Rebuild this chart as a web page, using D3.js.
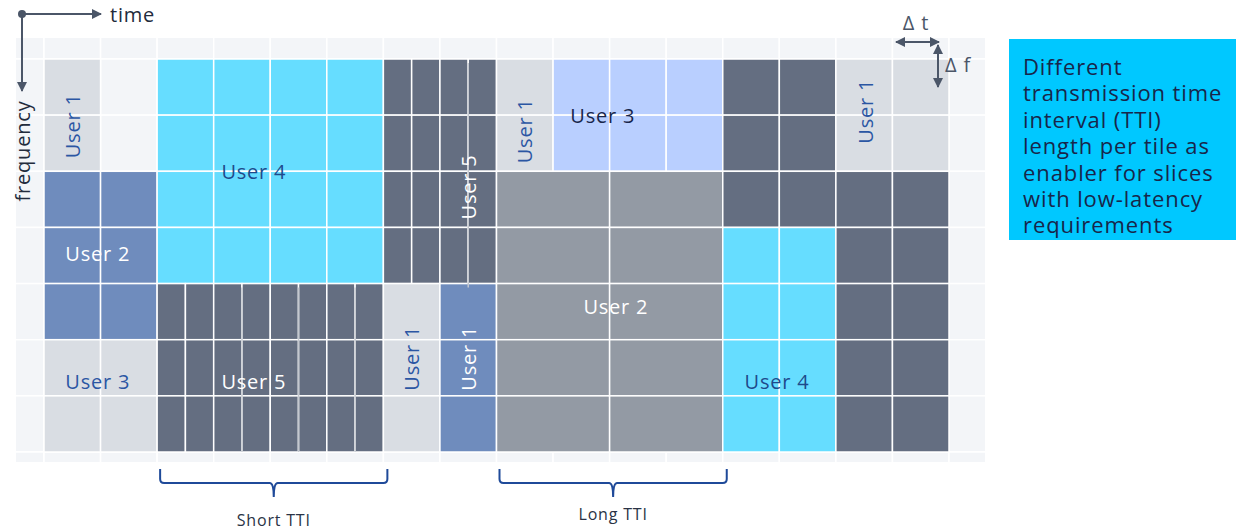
<!DOCTYPE html>
<html>
<head>
<meta charset="utf-8">
<script src="https://cdn.jsdelivr.net/npm/d3@7"></script>
<style>
  body { margin: 0; background: #fff; }
  text { font-family: "Open Sans", "Noto Sans", sans-serif; font-weight: 400; letter-spacing: 0.8px; }
</style>
</head>
<body>
<svg id="chart" width="1238" height="531"></svg>
<script>
// Resource grid: 16 time slots x 7 frequency slots
const N_SLOTS = 16;
const N_BANDS = 7;

// One entry per tile (slot/band in grid units)
const tileUsers = ['User 1', 'User 2', 'User 3', 'User 4', 'User 5', 'User 5', 'User 1', 'User 1',
  'User 1', 'User 3', 'User 2', '', 'User 4', 'User 1', ''];
const tileSlot = [0, 0, 0, 2, 2, 6, 6, 7, 8, 9, 8, 12, 12, 14, 14];
const tileBand = [0, 2, 5, 0, 4, 0, 4, 4, 0, 0, 2, 0, 3, 0, 2];
const tileSlots = [1, 2, 2, 4, 4, 2, 1, 1, 1, 3, 4, 2, 2, 2, 2];
const tileBands = [2, 3, 2, 4, 3, 4, 3, 3, 2, 2, 5, 3, 4, 2, 5];
const tileKind = ['light', 'blue', 'light', 'cyan', 'dark', 'dark', 'light', 'blue',
  'light', 'pale', 'grey', 'dark', 'cyan', 'light', 'dark'];
const tileTti = [1, 1, 1, 1, 0.5, 0.5, 1, 1, 1, 1, 2, 1, 1, 1, 1];
// label anchor (grid units) and orientation
const labelSlot = [0.5, 0.95, 0.95, 3.71, 3.71, 7.5, 6.5, 7.5, 8.5, 9.88, 10.11, 0, 12.96, 14.53, 0];
const labelBand = [1.19, 3.46, 5.74, 2.0, 5.74, 2.28, 5.33, 5.33, 1.28, 1.0, 4.4, 0, 5.74, 0.93, 0];
const labelVertical = [true, false, false, false, false, true, true, true, true, false, false, false, false, true, false];

// faint half-slot lines over the short-TTI tiles
const faintSlot = [3.5, 4.5, 5.5, 7.5];
const faintFrom = [4.07, 4.07, 4.07, 0.07];
const faintTo = [7.0, 7.0, 7.0, 4.07];

// braces under the grid
const braceNames = ['Short TTI', 'Long TTI'];
const braceFrom = [2, 8];
const braceTo = [6, 12];
const braceLabelY = [520, 514];

const noteLines = ['Different', 'transmission time', 'interval (TTI)', 'length per tile as',
  'enabler for slices', 'with low-latency', 'requirements'];

const FILL = { light: '#d9dde3', blue: '#6f8cbd', cyan: '#66ddff', dark: '#646e81', pale: '#b9cfff', grey: '#939aa4' };
const INK = { light: '#2b56a3', blue: '#ffffff', cyan: '#1e4a8c', dark: '#ffffff', pale: '#18264a', grey: '#ffffff' };
const AXIS_INK = '#4b5668';

const svg = d3.select('#chart');
const x = d3.scaleLinear().domain([0, N_SLOTS]).range([44, 949]);
const y = d3.scaleLinear().domain([0, N_BANDS]).range([59, 452]);

// background grid
svg.append('clipPath').attr('id', 'bgclip')
  .append('rect').attr('x', 16).attr('y', 38).attr('width', 969).attr('height', 424);
const bg = svg.append('g').attr('clip-path', 'url(#bgclip)');
const bgCells = [];
for (let s = -1; s <= N_SLOTS; s++) for (let b = -1; b <= N_BANDS; b++) bgCells.push([s, b]);
bg.selectAll('rect').data(bgCells).join('rect')
  .attr('x', d => x(d[0])).attr('y', d => y(d[1]))
  .attr('width', x(1) - x(0)).attr('height', y(1) - y(0))
  .attr('fill', '#f3f5f8').attr('stroke', '#ffffff').attr('stroke-width', 1.5);

// tiles, split into cells of one TTI x one band
const tiles = tileUsers.map((u, i) => ({
  user: u, slot: tileSlot[i], band: tileBand[i], slots: tileSlots[i], bands: tileBands[i],
  kind: tileKind[i], tti: tileTti[i], lx: labelSlot[i], ly: labelBand[i], vertical: labelVertical[i]
}));
const cells = [];
tiles.forEach(t => {
  for (let s = 0; s < t.slots; s += t.tti)
    for (let b = 0; b < t.bands; b++)
      cells.push({ s: t.slot + s, b: t.band + b, w: t.tti, kind: t.kind });
});
svg.append('g').selectAll('rect').data(cells).join('rect')
  .attr('x', d => x(d.s)).attr('y', d => y(d.b))
  .attr('width', d => x(d.w) - x(0)).attr('height', y(1) - y(0))
  .attr('fill', d => FILL[d.kind]).attr('stroke', '#ffffff').attr('stroke-width', 1.5);

svg.append('g').selectAll('line').data(faintSlot).join('line')
  .attr('x1', d => x(d)).attr('x2', d => x(d))
  .attr('y1', (d, i) => y(faintFrom[i])).attr('y2', (d, i) => y(faintTo[i]))
  .attr('stroke', '#c4c8cf').attr('stroke-width', 1.5);

// labels
svg.append('g').selectAll('text').data(tiles.filter(t => t.user)).join('text')
  .attr('transform', d => `translate(${x(d.lx)},${y(d.ly)})` + (d.vertical ? ' rotate(-90)' : ''))
  .attr('text-anchor', 'middle').attr('dominant-baseline', 'central')
  .attr('font-size', 20).attr('fill', d => INK[d.kind])
  .text(d => d.user);

// axes arrows
const defs = svg.append('defs');
defs.append('marker').attr('id', 'head').attr('viewBox', '0 0 10 10')
  .attr('refX', 9).attr('refY', 5).attr('markerWidth', 5).attr('markerHeight', 5)
  .attr('orient', 'auto-start-reverse')
  .append('path').attr('d', 'M0,0 L10,5 L0,10 Z').attr('fill', AXIS_INK);

const ax = svg.append('g');
ax.append('line').attr('x1', 22).attr('y1', 14).attr('x2', 101).attr('y2', 14)
  .attr('stroke', AXIS_INK).attr('stroke-width', 2).attr('marker-end', 'url(#head)');
ax.append('line').attr('x1', 22).attr('y1', 14).attr('x2', 22).attr('y2', 91)
  .attr('stroke', AXIS_INK).attr('stroke-width', 2).attr('marker-end', 'url(#head)');
ax.append('circle').attr('cx', 22).attr('cy', 14).attr('r', 4).attr('fill', AXIS_INK);
ax.append('text').attr('x', 110).attr('y', 14).attr('dominant-baseline', 'central')
  .attr('font-size', 20).attr('fill', '#222b3c').text('time');
ax.append('text').attr('transform', 'translate(22,151) rotate(-90)')
  .attr('text-anchor', 'middle').attr('dominant-baseline', 'central')
  .attr('font-size', 20).attr('fill', '#222b3c').text('frequency');

// delta t / delta f
ax.append('line').attr('x1', 896).attr('y1', 42).attr('x2', 939).attr('y2', 42)
  .attr('stroke', AXIS_INK).attr('stroke-width', 2)
  .attr('marker-start', 'url(#head)').attr('marker-end', 'url(#head)');
ax.append('line').attr('x1', 938).attr('y1', 45).attr('x2', 938).attr('y2', 87)
  .attr('stroke', AXIS_INK).attr('stroke-width', 2)
  .attr('marker-start', 'url(#head)').attr('marker-end', 'url(#head)');
ax.append('text').attr('x', 916).attr('y', 22).attr('text-anchor', 'middle').attr('dominant-baseline', 'central')
  .attr('font-size', 20).attr('fill', AXIS_INK).text('\u0394 t');
ax.append('text').attr('x', 945).attr('y', 64).attr('dominant-baseline', 'central')
  .attr('font-size', 20).attr('fill', AXIS_INK).text('\u0394 f');

// braces
const brace = svg.append('g');
braceNames.forEach((name, i) => {
  const x0 = x(braceFrom[i]) + 3, x1 = x(braceTo[i]) + 4, xm = (x0 + x1) / 2;
  const top = 469, mid = 483, tip = 497;
  const p = d3.path();
  p.moveTo(x0, top); p.lineTo(x0, mid - 4); p.quadraticCurveTo(x0, mid, x0 + 4, mid);
  p.lineTo(xm - 4, mid); p.quadraticCurveTo(xm, mid, xm, tip);
  p.moveTo(xm, tip); p.quadraticCurveTo(xm, mid, xm + 4, mid);
  p.lineTo(x1 - 4, mid); p.quadraticCurveTo(x1, mid, x1, mid - 4); p.lineTo(x1, top);
  brace.append('path').attr('d', p.toString()).attr('fill', 'none')
    .attr('stroke', '#1f4a99').attr('stroke-width', 2);
  brace.append('text').attr('x', xm).attr('y', braceLabelY[i])
    .attr('text-anchor', 'middle').attr('dominant-baseline', 'central')
    .attr('font-size', 16).attr('fill', '#2a3345').text(name);
});

// note box
const note = svg.append('g');
note.append('rect').attr('x', 1009).attr('y', 39).attr('width', 227).attr('height', 201).attr('fill', '#00c8ff');
note.selectAll('text').data(noteLines).join('text')
  .attr('x', 1023).attr('y', (d, i) => 75 + i * 26.4)
  .attr('font-size', 22).style('letter-spacing', '0.9px').attr('fill', '#18264a').text(d => d);
</script>
</body>
</html>
